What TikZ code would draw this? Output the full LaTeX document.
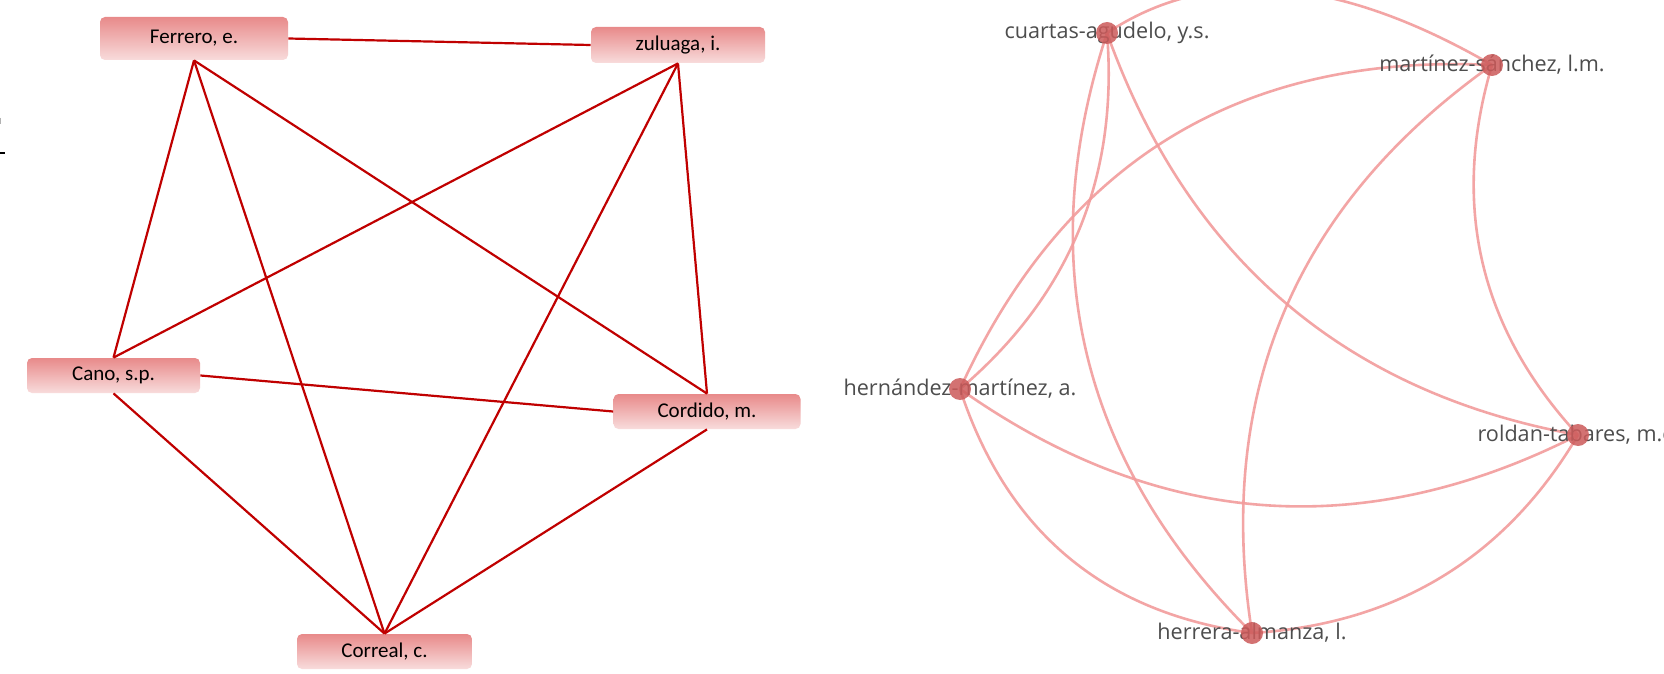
\documentclass[tikz,border=0pt]{standalone}
\usepackage{fontspec}
\setmainfont{Carlito}
\newfontfamily\vosfont{Open Sans}
\definecolor{edgeL}{HTML}{C00000}
\definecolor{boxTop}{HTML}{E88A8A}
\definecolor{boxBot}{HTML}{F8DCDC}
\definecolor{edgeR}{HTML}{F29C9C}
\definecolor{dotC}{HTML}{CC5A5A}
\definecolor{labC}{HTML}{4D4D4D}
\begin{document}
\begin{tikzpicture}[x=0.5pt,y=-0.5pt,
  author/.style={rounded corners=2.5pt, top color=boxTop, bottom color=boxBot,
    draw=none, font=\fontsize{10.5}{12}\selectfont, inner sep=0pt,
    minimum height=17.5pt},
  linkL/.style={draw=edgeL, line width=1.1pt},
  vdot/.style={circle, fill=dotC, fill opacity=0.85, minimum size=11pt, inner sep=0pt},
  vlab/.style={font=\vosfont\fontsize{10.8}{13}\selectfont, text=labC, inner sep=0pt},
  linkR/.style={draw=edgeR, line width=1.3pt, draw opacity=0.9}]
\useasboundingbox (0,0) rectangle (1664,674);
\clip (0,0) rectangle (1664,674);
\fill[white] (0,0) rectangle (1664,674);

% small marks at the left edge
\draw[black, line width=1pt] (0,153) -- (5,153);
\draw[gray!60, line width=0.8pt] (0,118) -- (0,124);

% ---------- left graph ----------
\node[author, minimum width=94pt, minimum height=21.5pt] (fer) at (194,38.5) {Ferrero, e.};
\node[author, minimum width=87pt, minimum height=18pt] (zul) at (678,45) {zuluaga, i.};
\node[author, minimum width=86.5pt] (can) at (113.5,375.5) {Cano, s.p.};
\node[author, minimum width=93.5pt] (cor) at (707,411.5) {Cordido, m.};
\node[author, minimum width=87.5pt] (cre) at (384.5,651.5) {Correal, c.};

\draw[linkL] (fer.east) -- (zul.west);
\draw[linkL] (fer.south) -- (can.north);
\draw[linkL] (fer.south) -- (cre.north);
\draw[linkL] (fer.south) -- (cor.north);
\draw[linkL] (zul.south) -- (can.north);
\draw[linkL] (zul.south) -- (cre.north);
\draw[linkL] (zul.south) -- (cor.north);
\draw[linkL] (can.east) -- (cor.west);
\draw[linkL] (can.south) -- (cre.north);
\draw[linkL] (cor.south) -- (cre.north);

% ---------- right graph ----------
\coordinate (C) at (1107,33);
\coordinate (M) at (1492,65);
\coordinate (H) at (960,389);
\coordinate (R) at (1578,435);
\coordinate (L) at (1252,633);

\draw[linkR] (C) .. controls (1209.3,-35) and (1337.7,-24.3) .. (M);
\draw[linkR] (C) .. controls (1118.7,177) and (1069.7,295.7) .. (H);
\draw[linkR] (C) .. controls (1032,262.3) and (1080.3,462.3) .. (L);
\draw[linkR] (C) .. controls (1187.7,259) and (1345.7,393) .. (R);
\draw[linkR] (M) .. controls (1241.3,53) and (1064,161) .. (H);
\draw[linkR] (M) .. controls (1294.7,205) and (1214.7,394.3) .. (L);
\draw[linkR] (M) .. controls (1450.3,205.7) and (1480,329) .. (R);
\draw[linkR] (H) .. controls (1157,528.3) and (1364,543.7) .. (R);
\draw[linkR] (H) .. controls (1006.7,531.7) and (1104,613) .. (L);
\draw[linkR] (R) .. controls (1505.3,558.3) and (1395.7,624.3) .. (L);

\node[vlab] (Ct) at (C) {cuartas-agudelo, y.s.};
\node[vlab] (Mt) at (M) {martínez-sánchez, l.m.};
\node[vlab] (Ht) at (H) {hernández-martínez, a.};
\node[vlab] (Rt) at (R) {roldan-tabares, m.c.};
\node[vlab] (Lt) at (L) {herrera-almanza, l.};

\node[vdot] (Cd) at (C) {};
\node[vdot] (Md) at (M) {};
\node[vdot] (Hd) at (H) {};
\node[vdot] (Rd) at (R) {};
\node[vdot] (Ld) at (L) {};
\end{tikzpicture}
\end{document}
